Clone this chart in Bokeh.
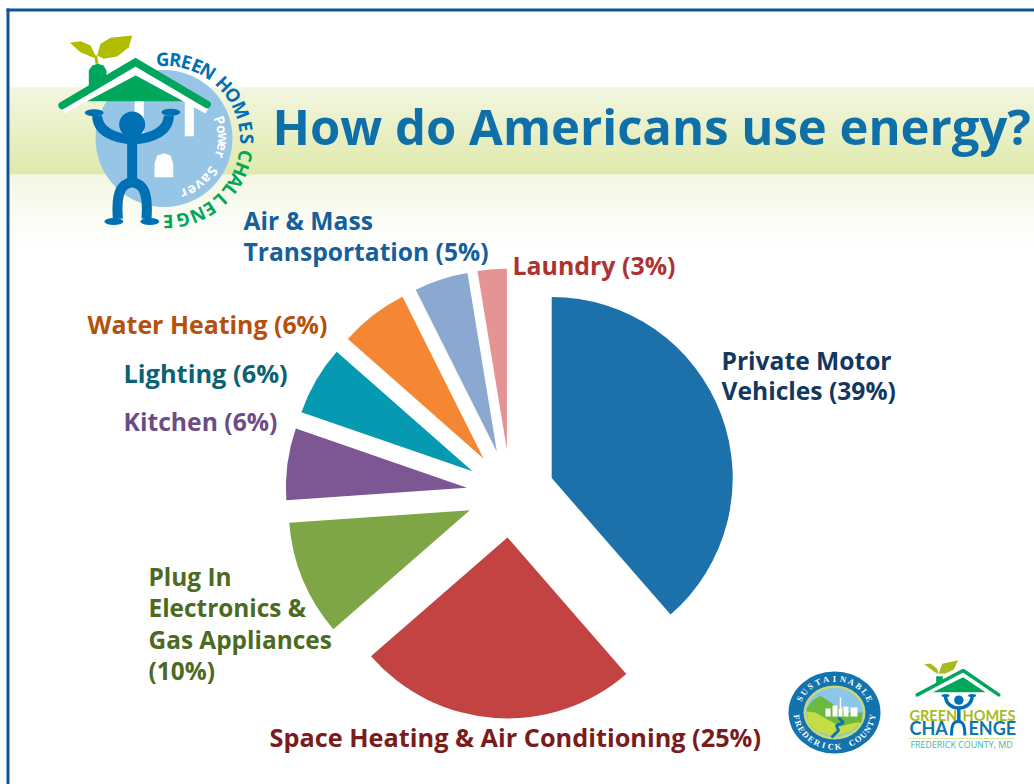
import numpy as np
from bokeh.plotting import figure
from bokeh.embed import file_html
from bokeh.resources import INLINE
from bokeh.core.properties import value

# ---------- data ----------
categories = ["Private Motor Vehicles", "Space Heating & Air Conditioning",
              "Plug In Electronics & Gas Appliances", "Kitchen", "Lighting",
              "Water Heating", "Air & Mass Transportation", "Laundry"]
shares = [38.6, 25.0, 10.3, 6.4, 6.2, 6.1, 4.8, 2.6]
slice_colors = ["#1C71AB", "#C24341", "#7EA646", "#7C5793", "#069AB2", "#F58634", "#8BA9D0", "#E59494"]
title_text = "How do Americans use energy?"
label_lines = [["Private Motor", "Vehicles (39%)"], ["Space Heating & Air Conditioning (25%)"],
               ["Plug In", "Electronics &", "Gas Appliances", "(10%)"], ["Kitchen (6%)"], ["Lighting (6%)"],
               ["Water Heating (6%)"], ["Air & Mass", "Transportation (5%)"], ["Laundry (3%)"]]
label_colors = ["#14375F", "#7A1C1C", "#4C6A22", "#6D4C85", "#0B6272", "#B5510B", "#15609C", "#AD3331"]
label_x = [721, 269, 148, 123, 123, 87, 243, 512]
label_y = [360, 736, 576, 421, 372, 323, 220, 264]
label_step = [30, 0, 31.3, 0, 0, 0, 31, 0]
label_size = [24.6, 25.3, 24.4, 24.7, 25.4, 24.9, 24.6, 24.9]

W, H = 1034, 784
def Y(v):
    return 784 - np.asarray(v, dtype=float)

p = figure(width=W, height=H, x_range=(0, 1034), y_range=(0, 784), toolbar_location=None,
           output_backend="svg", min_border=0, outline_line_color=None, margin=(0, 0, 0, 0),
           background_fill_color="white", border_fill_color="white")
p.axis.visible = False
p.grid.visible = False

FONT = value("Open Sans")

def txt(x, y, s, size, color, align="left", angle=0.0, baseline="alphabetic", style="bold", font=FONT):
    p.text([x], [float(Y(y))], text=[s], text_font=font, text_font_size=f"{size}px", text_color=color,
           text_align=align, text_baseline=baseline, text_font_style=style, angle=[angle])

# ---------- background bands ----------
def band(y0, y1, c0, c1, x0=9, x1=1034):
    n = int(y1 - y0)
    ys = np.arange(y0, y1)
    c0 = np.array(c0, float); c1 = np.array(c1, float)
    cols = []
    for i in range(n):
        c = c0 + (c1 - c0) * i / max(n - 1, 1)
        cols.append("#%02x%02x%02x" % tuple(int(round(v)) for v in c))
    p.quad(left=x0, right=x1, top=Y(ys), bottom=Y(ys + 1), fill_color=cols, line_color=None)

band(87, 174, (238, 244, 214), (214, 226, 143))
band(174, 248, (240, 245, 216), (255, 255, 255))

# border
p.quad(left=[6, 6], right=[9, 1034], top=Y([8, 8]), bottom=Y([784, 11]), fill_color="#0E5497", line_color=None)

# ---------- pie ----------
cx, cy, R, EXPLODE = 510.0, 493.0, 181.0, 44.0
vals = np.array(shares, float)
frac = vals / vals.sum()
ends = np.cumsum(frac)
starts = ends - frac
mids = (starts + ends) / 2 * 2 * np.pi  # clockwise from top
ax = cx + EXPLODE * np.sin(mids)
ay = cy - EXPLODE * np.cos(mids)
p.wedge(x=ax, y=Y(ay), radius=R, start_angle=np.pi / 2 - ends * 2 * np.pi, end_angle=np.pi / 2 - starts * 2 * np.pi,
        direction="anticlock", fill_color=slice_colors, line_color=None)

# ---------- labels ----------
for lines, c, lx, ly, st, sz in zip(label_lines, label_colors, label_x, label_y, label_step, label_size):
    for i, line in enumerate(lines):
        txt(lx, ly + i * st, line, sz, c)

txt(272, 125, title_text, 49, "#0F6FA8")

# ---------- main logo ----------
BLUE = "#0070B5"; GREEN = "#00A65C"; OLIVE = "#B0BC00"; SKY = "#97C5E5"
def zx(v): return np.asarray(v, float) / 3
def zy(v): return Y(np.asarray(v, float) / 3)

def circular(text, angles, cxp, cyp, r, size, color):
    for ch, a in zip(text, angles):
        th = np.radians(a)
        txt(cxp + r * np.sin(th), cyp - r * np.cos(th), ch, size, color, align="center", angle=-th, baseline="middle")

p.circle(x=[163.5], y=[float(Y(138))], radius=68.5, fill_color=SKY, line_color=None)
p.quad(left=zx([402, 553]), right=zx([430, 580]), top=zy([300, 300]), bottom=zy([410, 407]), fill_color="white", line_color=None)
p.patch(zx([462, 462, 470, 490, 510, 518, 518]), zy([530, 490, 465, 458, 465, 490, 530]), fill_color="white", line_color=None)
# roof
p.line(zx([185, 405, 620]), zy([330, 212, 330]), line_color="white", line_width=7)
p.line(zx([185, 405, 620]), zy([315, 185, 312]), line_color=GREEN, line_width=7.5, line_cap="round", line_join="miter")
p.patch(zx([265, 265, 275, 292, 309, 318, 318]), zy([260, 210, 195, 190, 195, 210, 225]), fill_color=GREEN, line_color=None)
p.patch(zx([260, 405, 548]), zy([302, 225, 302]), fill_color=GREEN, line_color=None)
# sprout
p.line(zx([290, 285]), zy([190, 165]), line_color=OLIVE, line_width=3)
p.patch(zx([208, 240, 270, 290, 270, 240]), zy([127, 122, 135, 175, 168, 155]), fill_color=OLIVE, line_color=None)
p.patch(zx([290, 300, 330, 395, 385, 350, 310]), zy([165, 130, 112, 105, 140, 168, 175]), fill_color=OLIVE, line_color=None)
# person
p.bezier(x0=zx([290]), y0=zy([345]), x1=zx([505]), y1=zy([345]), cx0=zx([290]), cy0=zy([440]), cx1=zx([505]), cy1=zy([440]),
         line_color=BLUE, line_width=10)
p.circle(x=zx([395]), y=zy([372]), radius=13, fill_color=BLUE, line_color=None)
p.line(zx([395, 395]), zy([425, 545]), line_color=BLUE, line_width=10)
p.bezier(x0=zx([352, 438]), y0=zy([655, 655]), x1=zx([395, 395]), y1=zy([545, 545]), cx0=zx([345, 445]), cy0=zy([560, 560]),
         cx1=zx([370, 420]), cy1=zy([550, 550]), line_color=BLUE, line_width=10)
p.ellipse(x=zx([281, 511, 340, 448]), y=zy([337, 335, 663, 663]), width=[19, 19, 19, 19], height=[7, 7, 7, 7],
          fill_color=BLUE, line_color=None)
circular("GREENHOMES", [-2, 7, 15, 23, 31.5, 46, 56, 68, 80, 89], 165, 140, 82, 18.5, "#0070B5")
circular("CHALLENGE", [101, 111, 120, 128, 137.5, 147, 156.5, 167.5, 178], 165, 140, 82, 18.5, "#00A65C")
circular("Power", [72, 81, 90, 98, 106], 163.5, 138, 59, 14, "white")
circular("Saver", [124, 133, 142, 151, 160], 163.5, 138, 59, 14, "white")

# ---------- seal ----------
sx, sy = 834.0, 712.0
p.ellipse(x=[sx], y=[float(Y(sy))], width=[92], height=[82], fill_color="#1273AE", line_color=None)
p.ellipse(x=[sx], y=[float(Y(sy))], width=[62], height=[54], fill_color="#C7D77B", line_color=None)
p.ellipse(x=[sx], y=[float(Y(sy))], width=[57], height=[49], fill_color="#8CC6EA", line_color=None)
# hills and river
p.patch([806, 812, 820, 830, 846, 862, 861, 850, 834, 816, 808], Y([708, 700, 695, 702, 712, 712, 722, 731, 736, 731, 722]),
        fill_color="#6DB93F", line_color=None)
p.patch([806, 815, 825, 840, 855, 861, 850, 834, 816, 808], Y([711, 712, 718, 726, 722, 722, 731, 736, 731, 722]),
        fill_color="#C5DE45", line_color=None)
p.line([838, 843, 836, 838, 831], Y([717, 722, 725, 730, 737]), line_color="#1273AE", line_width=3)
p.quad(left=[825, 832, 838, 843, 850], right=[830, 837, 842, 848, 857], top=Y([708, 705, 708, 706, 707]), bottom=Y([716, 716, 716, 716, 716]),
       fill_color="white", line_color=None)
p.line([840, 840], Y([697, 710]), line_color="white", line_width=1.5)
def ell_text(text, a0, a1, color, flip=False):
    n = len(text)
    for i, ch in enumerate(text):
        if ch == " ":
            continue
        th = np.radians(a0 + (a1 - a0) * i / (n - 1))
        x = sx + 38 * np.sin(th); y = sy - 34 * np.cos(th)
        ang = -th + (np.pi if flip else 0)
        txt(x, y, ch, 8.5, color, align="center", angle=ang, baseline="middle", font=value("Liberation Serif"))
ell_text("SUSTAINABLE", -66, 66, "white")
ell_text("FREDERICK COUNTY", 262, 98, "white", flip=True)

# ---------- small logo (coordinates from the 3x crop at 905,655) ----------
def bx(v): return 905 + np.asarray(v, float) / 3
def by(v): return Y(655 + np.asarray(v, float) / 3)
p.line(bx([35, 173, 280]), by([118, 45, 118]), line_color="#00A65C", line_width=3.5, line_cap="round")
p.patch(bx([82, 173, 240]), by([110, 65, 110]), fill_color="#00A65C", line_color=None)
p.patch(bx([92, 92, 112, 112]), by([90, 62, 62, 80]), fill_color="#00A65C", line_color=None)
p.patch(bx([56, 75, 95, 100, 85]), by([26, 24, 40, 56, 48]), fill_color="#A8BA1E", line_color=None)
p.patch(bx([100, 110, 158, 145, 120]), by([54, 25, 14, 42, 54]), fill_color="#A8BA1E", line_color=None)
p.circle(x=bx([160]), y=by([134]), radius=4.7, fill_color=BLUE, line_color=None)
p.bezier(x0=bx([120]), y0=by([120]), x1=bx([200]), y1=by([120]), cx0=bx([120]), cy0=by([170]), cx1=bx([200]), cy1=by([170]),
         line_color=BLUE, line_width=3.5)
p.ellipse(x=bx([120, 200]), y=by([120, 120]), width=[8, 8], height=[3, 3], fill_color=BLUE, line_color=None)
p.line(bx([160, 160]), by([155, 200]), line_color=BLUE, line_width=3.5)
LATO = value("Lato")
txt(909, 715, "GREEN", 14.5, "#A8BA1E", font=LATO)
txt(962, 715, "HOMES", 14.5, "#A8BA1E", font=LATO)
txt(909, 727.5, "CHA", 18, "#0E75B0", font=LATO)
txt(968, 727.5, "ENGE", 18, "#0E75B0", font=LATO)
p.bezier(x0=bx([138, 178]), y0=by([240, 240]), x1=bx([158, 158]), y1=by([198, 198]), cx0=bx([138, 178]), cy0=by([205, 205]),
         cx1=bx([145, 171]), cy1=by([198, 198]), line_color=BLUE, line_width=3)
p.line([908, 1014], Y([738, 738]), line_color="#DDE59A", line_width=1)
txt(910, 744, "FREDERICK COUNTY, MD", 8.9, "#3DB6A8", style="normal")

open("out.html", "w").write(file_html(p, INLINE))
